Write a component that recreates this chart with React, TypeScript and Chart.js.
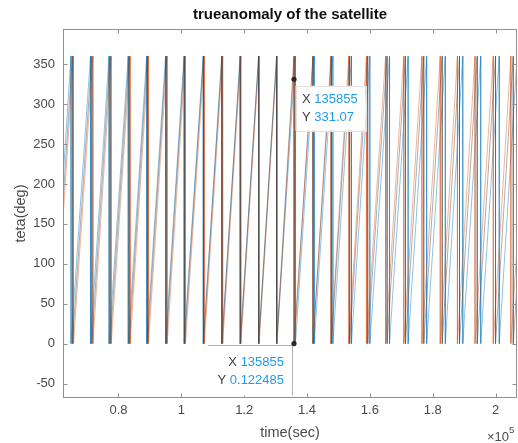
import React, { useEffect, useRef } from 'react';
import { Chart, registerables } from 'chart.js';

Chart.register(...registerables);

// ---------- data ----------
const TITLE = 'trueanomaly of the satellite';
const X_LABEL = 'time(sec)';
const Y_LABEL = 'teta(deg)';

const X_MIN = 62360;
const X_MAX = 206800;
const Y_MIN = -68;
const Y_MAX = 394;

const X_TICKS = [80000, 100000, 120000, 140000, 160000, 180000, 200000];
const X_TICK_LABELS = ['0.8', '1', '1.2', '1.4', '1.6', '1.8', '2'];
const Y_TICKS = [-50, 0, 50, 100, 150, 200, 250, 300, 350];
const X_EXPONENT = '5';

const WRAP_DEG = 360;

// times (s) at which each series wraps from 360 deg back to 0 deg
const blueWraps = [
  59000, 64900, 71100, 77000, 83100, 88980, 94990, 100870, 106970, 112870, 118740,
  124620, 130360, 136330, 142300, 148230, 154150, 159980, 166250, 172160, 178060,
  183990, 189560, 195260, 201150, 206840, 212700,
];
const orangeWraps = [
  59800, 65700, 71880, 77700, 83740, 89560, 95500, 101310, 107330, 113160, 118960,
  124770, 130450, 135980, 141900, 147600, 153300, 158900, 165000, 170780, 176560,
  182380, 187850, 193450, 199250, 204850, 210600,
];
const grayWraps = [
  59450, 65340, 71520, 77350, 83400, 89230, 95190, 101020, 107070, 112930, 118760,
  124590, 130300, 135855, 141910, 147740, 153570, 159300, 165480, 171310, 177140,
  183000, 188510, 194150, 199970, 205610, 211400,
];

const TIP_X = 135855;
const TIP_UPPER_Y = 331.07;
const TIP_LOWER_Y = 0.122485;
const TIP_UPPER_TEXT = ['135855', '331.07'];
const TIP_LOWER_TEXT = ['135855', '0.122485'];

// ---------- helpers ----------
function sawtooth(wraps: number[]) {
  const pts: { x: number; y: number }[] = [{ x: wraps[0], y: 0 }];
  for (let i = 1; i < wraps.length; i++) {
    pts.push({ x: wraps[i], y: WRAP_DEG });
    pts.push({ x: wraps[i], y: 0 });
  }
  return pts;
}

const FONT = '"Liberation Sans", Arial, Helvetica, sans-serif';
const AXIS_COLOR = '#8f8f8f';
const TEXT_COLOR = '#4a4a4a';

const decorPlugin = {
  id: 'decor',
  afterDraw(chart: any) {
    const { ctx, chartArea: a, scales } = chart;
    const xs = scales.x;
    const ys = scales.y;
    ctx.save();

    // box + inward ticks
    ctx.strokeStyle = AXIS_COLOR;
    ctx.lineWidth = 1;
    ctx.strokeRect(Math.round(a.left) + 0.5, Math.round(a.top) + 0.5,
      Math.round(a.right - a.left) - 1, Math.round(a.bottom - a.top) - 1);
    const tl = 4.5;
    ctx.beginPath();
    X_TICKS.forEach((v) => {
      const px = Math.round(xs.getPixelForValue(v)) + 0.5;
      ctx.moveTo(px, a.bottom); ctx.lineTo(px, a.bottom - tl);
      ctx.moveTo(px, a.top); ctx.lineTo(px, a.top + tl);
    });
    Y_TICKS.forEach((v) => {
      const py = Math.round(ys.getPixelForValue(v)) + 0.5;
      ctx.moveTo(a.left, py); ctx.lineTo(a.left + tl, py);
      ctx.moveTo(a.right, py); ctx.lineTo(a.right - tl, py);
    });
    ctx.stroke();

    // data tips
    const px = xs.getPixelForValue(TIP_X);
    const pyU = ys.getPixelForValue(TIP_UPPER_Y);
    const pyL = ys.getPixelForValue(TIP_LOWER_Y);

    // upper box
    const ub = { x: px + 1.5, y: pyU + 6.5, w: 70, h: 45 };
    ctx.fillStyle = '#ffffff';
    ctx.fillRect(ub.x, ub.y, ub.w, ub.h);
    ctx.strokeStyle = '#e2e2e2';
    ctx.strokeRect(Math.round(ub.x) + 0.5, Math.round(ub.y) + 0.5, ub.w, ub.h);
    ctx.font = '13px ' + FONT;
    ctx.textBaseline = 'middle';
    ctx.textAlign = 'left';
    const drawPair = (label: string, val: string, x: number, y: number, align: string) => {
      const lw = ctx.measureText(label + ' ').width;
      const vw = ctx.measureText(val).width;
      const startX = align === 'right' ? x - lw - vw : x;
      ctx.fillStyle = '#3c3c3c';
      ctx.fillText(label, startX, y);
      ctx.fillStyle = '#1d9bf0';
      ctx.fillText(val, startX + lw, y);
    };
    drawPair('X', TIP_UPPER_TEXT[0], ub.x + 6.5, ub.y + 13.5, 'left');
    drawPair('Y', TIP_UPPER_TEXT[1], ub.x + 6.5, ub.y + 31.5, 'left');

    // lower box (anchored top-right at the point)
    const lb = { x: px - 86, y: pyL + 1, w: 84.5, h: 51 };
    ctx.fillStyle = '#ffffff';
    ctx.fillRect(lb.x, lb.y, lb.w, lb.h);
    ctx.strokeStyle = '#b4b4b4';
    ctx.beginPath();
    ctx.moveTo(lb.x, Math.round(lb.y) + 0.5);
    ctx.lineTo(lb.x + lb.w, Math.round(lb.y) + 0.5);
    ctx.lineTo(lb.x + lb.w, lb.y + lb.h);
    ctx.stroke();
    drawPair('X', TIP_LOWER_TEXT[0], lb.x + lb.w - 8.5, lb.y + 17.5, 'right');
    drawPair('Y', TIP_LOWER_TEXT[1], lb.x + lb.w - 8.5, lb.y + 36, 'right');

    // markers
    ctx.fillStyle = '#262626';
    [pyU, pyL].forEach((py) => {
      ctx.beginPath();
      ctx.arc(px, py, 2.6, 0, Math.PI * 2);
      ctx.fill();
    });

    // title
    const cx = (a.left + a.right) / 2;
    ctx.fillStyle = '#111111';
    ctx.textAlign = 'center';
    ctx.textBaseline = 'alphabetic';
    ctx.font = 'bold 15px ' + FONT;
    ctx.fillText(TITLE, cx, 19);

    // axis labels
    ctx.fillStyle = TEXT_COLOR;
    ctx.font = '14.5px ' + FONT;
    ctx.fillText(X_LABEL, cx, 437);
    ctx.save();
    ctx.translate(25, (a.top + a.bottom) / 2);
    ctx.rotate(-Math.PI / 2);
    ctx.fillText(Y_LABEL, 0, 0);
    ctx.restore();

    // exponent
    ctx.textAlign = 'left';
    ctx.font = '13px ' + FONT;
    ctx.fillText('\u00d710', 487, 441);
    ctx.font = '9.5px ' + FONT;
    ctx.fillText(X_EXPONENT, 509, 433);

    ctx.restore();
  },
};

export default function App() {
  const ref = useRef<HTMLCanvasElement>(null);

  useEffect(() => {
    if (!ref.current) return;
    const mk = (data: any, color: string, order: number) => ({
      data,
      order,
      borderColor: color,
      borderWidth: 0.8,
      pointRadius: 0,
      fill: false,
      tension: 0,
    });
    const chart = new Chart(ref.current, {
      type: 'line',
      data: {
        datasets: [
          mk(sawtooth(blueWraps), 'rgba(0,114,189,0.55)', 3),
          mk(sawtooth(orangeWraps), 'rgba(217,83,25,0.55)', 2),
          mk(sawtooth(grayWraps), 'rgba(70,70,70,0.55)', 1),
        ],
      },
      options: {
        animation: false,
        responsive: false,
        devicePixelRatio: 1,
        parsing: false,
        layout: { padding: { top: 29, right: 1, left: 0, bottom: 0 } },
        plugins: {
          legend: { display: false },
          tooltip: { enabled: false },
          title: { display: false },
        },
        scales: {
          x: {
            type: 'linear',
            min: X_MIN,
            max: X_MAX,
            grid: { display: false, drawTicks: false },
            border: { display: false },
            afterBuildTicks: (s: any) => {
              s.ticks = X_TICKS.map((v) => ({ value: v }));
            },
            afterFit: (s: any) => {
              s.height = 45;
            },
            ticks: {
              autoSkip: false,
              maxRotation: 0,
              padding: 5,
              color: TEXT_COLOR,
              font: { family: FONT, size: 13 },
              callback: (v: any) => {
                const i = X_TICKS.indexOf(Number(v));
                return i >= 0 ? X_TICK_LABELS[i] : '';
              },
            },
          },
          y: {
            type: 'linear',
            min: Y_MIN,
            max: Y_MAX,
            grid: { display: false, drawTicks: false },
            border: { display: false },
            afterBuildTicks: (s: any) => {
              s.ticks = Y_TICKS.map((v) => ({ value: v }));
            },
            afterFit: (s: any) => {
              s.width = 63;
            },
            ticks: {
              autoSkip: false,
              padding: 8,
              color: TEXT_COLOR,
              font: { family: FONT, size: 13 },
              callback: (v: any) => String(v),
            },
          },
        },
      } as any,
      plugins: [decorPlugin],
    });
    return () => chart.destroy();
  }, []);

  return (
    <div style={{ position: 'absolute', left: 0, top: 0, width: 518, height: 443, background: '#fff' }}>
      <canvas ref={ref} width={518} height={443} style={{ width: 518, height: 443 }} />
    </div>
  );
}
